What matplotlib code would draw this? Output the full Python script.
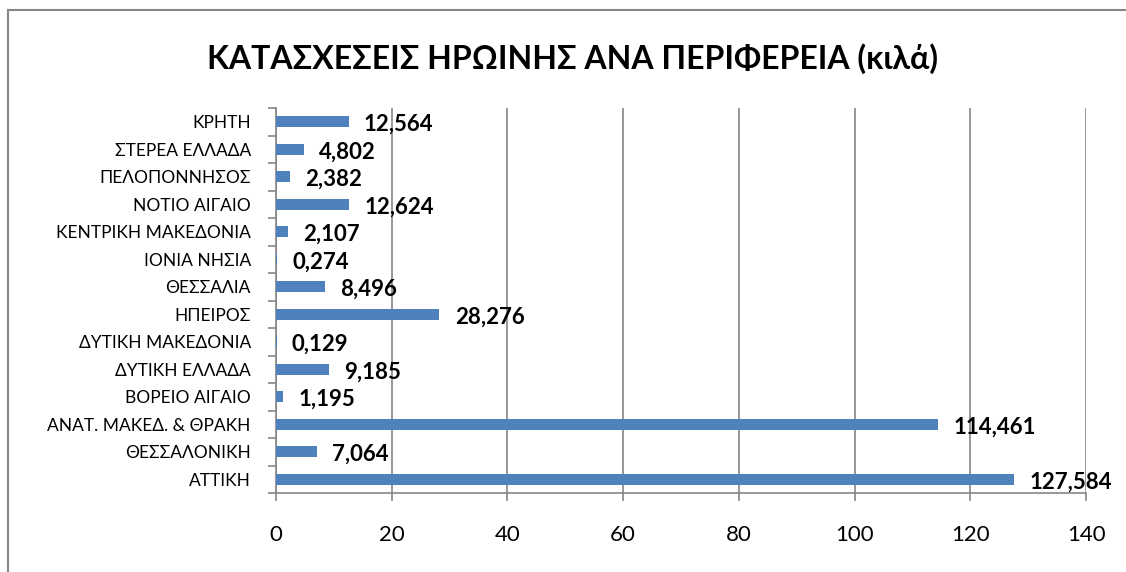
import matplotlib.pyplot as plt
from matplotlib.lines import Line2D

regions = ['ΑΤΤΙΚΗ', 'ΘΕΣΣΑΛΟΝΙΚΗ', 'ΑΝΑΤ. ΜΑΚΕΔ. & ΘΡΑΚΗ', 'ΒΟΡΕΙΟ ΑΙΓΑΙΟ',
           'ΔΥΤΙΚΗ ΕΛΛΑΔΑ', 'ΔΥΤΙΚΗ ΜΑΚΕΔΟΝΙΑ', 'ΗΠΕΙΡΟΣ', 'ΘΕΣΣΑΛΙΑ',
           'ΙΟΝΙΑ ΝΗΣΙΑ', 'ΚΕΝΤΡΙΚΗ ΜΑΚΕΔΟΝΙΑ', 'ΝΟΤΙΟ ΑΙΓΑΙΟ', 'ΠΕΛΟΠΟΝΝΗΣΟΣ',
           'ΣΤΕΡΕΑ ΕΛΛΑΔΑ', 'ΚΡΗΤΗ']
kilos = [127.584, 7.064, 114.461, 1.195, 9.185, 0.129, 28.276, 8.496,
         0.274, 2.107, 12.624, 2.382, 4.802, 12.564]
xticks = [0, 20, 40, 60, 80, 100, 120, 140]

plt.rcParams['font.family'] = ['Lato', 'DejaVu Sans']
grey = '#868686'

fig = plt.figure(figsize=(11.26, 5.72), dpi=100, facecolor='white')
ax = fig.add_axes([0.245, 0.138, 0.7195, 0.673])

y = range(len(regions))
ax.barh(y, kilos, height=0.4, color='#4f81bd', zorder=3)
for i, v in enumerate(kilos):
    ax.annotate(f'{v:.3f}'.replace('.', ','), (v, i), xytext=(11, -2),
                textcoords='offset points', va='center', ha='left',
                fontsize=16, fontweight='bold', zorder=4)

ax.set_xlim(0, 140)
ax.set_ylim(-0.5, len(regions) - 0.5)
ax.set_xticks(xticks)
ax.set_yticks([i - 0.5 for i in range(len(regions) + 1)], minor=False)
ax.set_yticklabels([])
ax.set_yticks(list(y), minor=True)
ax.set_yticklabels(regions, minor=True, fontsize=12.5)
ax.tick_params(axis='y', which='minor', length=0, pad=18)
ax.tick_params(axis='y', which='major', length=6, color=grey, width=1.2)
ax.tick_params(axis='x', length=6, color=grey, width=1.2, labelsize=16, pad=17)
ax.grid(axis='x', color=grey, linewidth=1.2, zorder=0)
for s in ['top', 'right']:
    ax.spines[s].set_visible(False)
for s in ['left', 'bottom']:
    ax.spines[s].set_color(grey)
    ax.spines[s].set_linewidth(1.2)

fig.text(0.508, 0.897, 'ΚΑΤΑΣΧΕΣΕΙΣ ΗΡΩΙΝΗΣ ΑΝΑ ΠΕΡΙΦΕΡΕΙΑ (κιλά)',
         ha='center', va='center', fontsize=23, fontweight='bold')

# outer chart border
fig.add_artist(Line2D([0.0075, 0.0075], [0, 0.982], color=grey, lw=1.5,
                      transform=fig.transFigure))
fig.add_artist(Line2D([0.0075, 1], [0.982, 0.982], color=grey, lw=1.5,
                      transform=fig.transFigure))

fig.savefig('out.png', dpi=100, facecolor='white')
